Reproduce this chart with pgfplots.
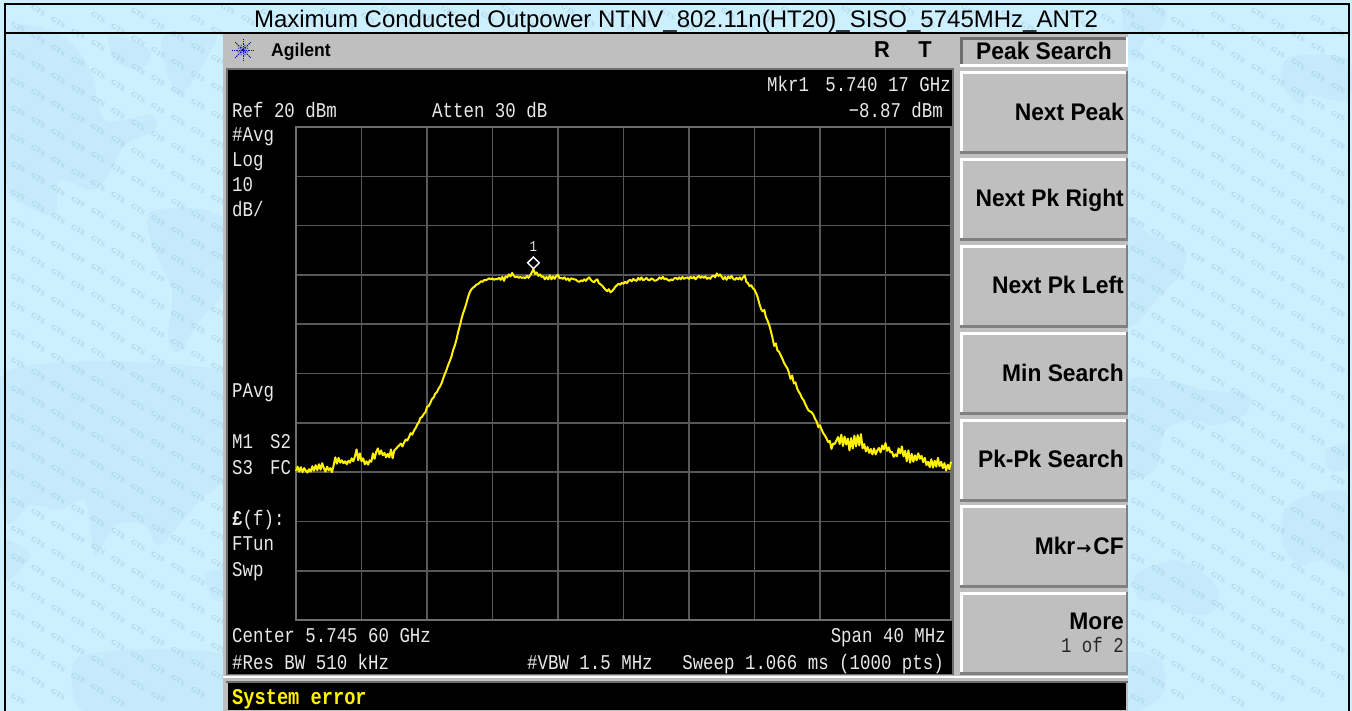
\documentclass[border=0pt]{standalone}
\usepackage{fontspec}
\usepackage{pgfplots}
\pgfplotsset{compat=1.18}
\setmainfont{Liberation Sans}
\newfontfamily\scr[FakeStretch=0.83]{Liberation Mono}
\newfontfamily\scrb[FakeStretch=0.83]{Liberation Mono Bold}
\newfontfamily\btn[FakeStretch=0.95]{Liberation Sans Bold}
\newfontfamily\arr{DejaVu Sans}
\newfontfamily\wmf{Liberation Serif Bold}
\newcommand{\scrfont}{\fontsize{21}{24}\selectfont\scr}
\newcommand{\btnfont}{\fontsize{24}{26}\selectfont\btn}
\definecolor{bgb}{HTML}{CDF0FF}
\definecolor{blob}{HTML}{C4EAFC}
\definecolor{panel}{HTML}{BFBFBF}
\definecolor{gridg}{HTML}{585858}
\definecolor{boxg}{HTML}{6E6E6E}
\definecolor{scrw}{HTML}{E8E8E8}
\definecolor{wm}{HTML}{AED5E8}
\newcommand{\softkey}[2]{%
  \fill[panel] (960,#1) rectangle (1128,#2);
  \fill[white] (960,#1) rectangle (1128,#1+3);
  \fill[white] (960,#1) rectangle (962.5,#2);
  \fill[black!50] (960,#2-3) rectangle (1128,#2);
  \fill[black!50] (1125.5,#1) rectangle (1128,#2);
}
\begin{document}
\begin{tikzpicture}[x=1pt,y=-1pt]
\path[use as bounding box] (0,0) rectangle (1352,711);
\clip (0,0) rectangle (1352,711);
\fill[bgb] (0,0) rectangle (1352,711);
% faint map shapes
\begin{scope}[fill=blob]
\fill plot[smooth cycle,tension=.5] coordinates {(6,35)(60,35)(90,70)(105,120)(150,115)(155,130)(125,145)(105,180)(90,190)(60,180)(55,215)(25,205)(6,180)};
\fill plot[smooth cycle,tension=.5] coordinates {(110,35)(150,50)(140,70)(115,60)};
\fill plot[smooth cycle,tension=.5] coordinates {(165,35)(215,35)(205,60)(180,95)(165,65)};
\fill plot[smooth cycle,tension=.4] coordinates {(150,212)(190,208)(224,220)(224,290)(200,320)(178,352)(168,340)(172,290)(150,240)};
\fill plot[smooth cycle,tension=.4] coordinates {(6,372)(224,372)(224,475)(200,500)(160,545)(145,525)(115,525)(95,555)(85,500)(60,510)(30,505)(6,520)};
\fill plot[smooth cycle,tension=.4] coordinates {(6,540)(30,555)(20,570)(6,580)};
\fill plot[smooth cycle,tension=.4] coordinates {(205,575)(224,570)(224,600)(212,598)};
\fill plot[smooth cycle,tension=.4] coordinates {(75,660)(130,650)(224,655)(224,712)(85,712)};
\fill plot[smooth cycle,tension=.5] coordinates {(1125,5)(1165,10)(1160,30)(1145,40)(1135,60)(1125,50)};
\fill plot[smooth cycle,tension=.5] coordinates {(1285,60)(1310,55)(1348,60)(1348,100)(1310,95)(1300,105)(1282,85)};
\fill plot[smooth cycle,tension=.5] coordinates {(1125,220)(1150,235)(1185,250)(1180,275)(1160,295)(1140,320)(1125,320)};
\fill plot[smooth cycle,tension=.5] coordinates {(1125,385)(1165,380)(1205,390)(1248,395)(1245,415)(1215,425)(1190,420)(1165,430)(1160,450)(1155,470)(1130,480)(1125,470)};
\fill plot[smooth cycle,tension=.5] coordinates {(1325,450)(1348,445)(1348,468)(1330,470)};
\fill plot[smooth cycle,tension=.5] coordinates {(1285,510)(1310,495)(1348,495)(1348,570)(1320,560)(1300,565)(1283,545)};
\fill plot[smooth cycle,tension=.5] coordinates {(1135,575)(1175,560)(1205,575)(1218,590)(1215,610)(1195,615)(1160,600)(1140,600)};
\fill plot[smooth cycle,tension=.5] coordinates {(1125,655)(1160,660)(1165,690)(1150,705)(1125,712)};
\end{scope}
% watermark
\tikzset{wmk/.style={font=\fontsize{7.5}{8}\selectfont\wmf,text=wm,rotate=-32,inner sep=0pt}}
\foreach \c in {0,...,10}{
  \foreach \r in {-5,...,26}{
    \pgfmathsetmacro{\xa}{18+20*\c}
    \pgfmathsetmacro{\xb}{1138+20*\c}
    \pgfmathsetmacro{\yy}{11.7*\c+28*\r-1}
    \pgfmathparse{(\yy>10)&&(\yy<702)?1:0}
    \ifnum\pgfmathresult=1
      \node[wmk] at (\xa,\yy) {GTS};
      \node[wmk] at (\xb,\yy) {GTS};
    \fi
  }
}
\foreach \c in {0,...,45}{
  \pgfmathsetmacro{\xa}{228+20*\c}
  \pgfmathsetmacro{\yy}{9+mod(11.7*\c,18)}
  \node[wmk] at (\xa,\yy) {GTS};
}
% outer cell lines
\draw[black,line width=2pt] (5,712) -- (5,4) -- (1349,4) -- (1349,712);
\draw[black,line width=2pt] (5,33.5) -- (1349,33.5);
\node[anchor=base,inner sep=0pt,font=\fontsize{24}{26}\selectfont] at (676,28) {Maximum Conducted Outpower NTNV\_802.11n(HT20)\_SISO\_5745MHz\_ANT2};
% instrument panel
\fill[panel] (223,34.5) rectangle (1128,711);
\fill[boxg] (226,68) rectangle (954,675);
\fill[black] (228,70) rectangle (952,674);
\fill[white] (223,675.5) rectangle (1128,678);
\fill[boxg] (226,680.5) rectangle (1128,683);
\fill[black] (228,683) rectangle (1126,710);
% soft keys
\fill[boxg] (960,37) rectangle (1128,40);
\fill[boxg] (960,37) rectangle (962.5,67);
\fill[white] (960,64.5) rectangle (1128,67);
\fill[white] (1125.5,37) rectangle (1128,67);
\softkey{71}{154}
\softkey{158}{241}
\softkey{245}{328}
\softkey{332}{415}
\softkey{419}{502}
\softkey{505}{588}
\softkey{592}{675}
% trace
\begin{axis}[
  at={(296pt,-620pt)},anchor=south west,
  width=655pt,height=493pt,scale only axis,
  xmin=0,xmax=40,ymin=-80,ymax=20,
  xtick={0,4,...,40},ytick={-80,-70,...,20},
  xticklabels={},yticklabels={},
  major tick length=0pt,
  grid=major,
  major grid style={gridg,line width=1.6pt},
  axis line style={boxg,line width=2.4pt},
  clip=false,
]
\addplot[color=yellow,line width=2pt,line join=round] coordinates {
(0,-49.8)(.1,-48.9)(.2,-49.9)(.3,-49.0)(.4,-50.0)(.5,-49.2)(.6,-49.7)(.7,-50.1)(.8,-49.4)(.9,-49.9)
(1,-48.8)(1.1,-49.7)(1.2,-48.6)(1.3,-49.6)(1.4,-48.4)(1.5,-49.5)(1.6,-48.2)(1.7,-49.2)(1.8,-49.9)(1.9,-48.9)
(2,-49.6)(2.1,-49.2)(2.2,-50)(2.3,-48.6)(2.4,-47)(2.5,-48.3)(2.6,-47.1)(2.7,-48.1)(2.8,-47.6)(2.9,-48.2)
(3,-47.8)(3.1,-48.4)(3.2,-47.7)(3.3,-48.1)(3.4,-47.2)(3.5,-47.8)(3.6,-46.8)(3.7,-45.4)(3.8,-47.6)(3.9,-46.2)
(4,-47.8)(4.1,-47.2)(4.2,-48.4)(4.3,-47.8)(4.4,-48.5)(4.5,-47.6)(4.6,-47.9)(4.7,-46.2)(4.8,-47.3)(4.9,-45.9)
(5,-45.2)(5.1,-46.4)(5.2,-45.6)(5.3,-46.6)(5.4,-46.1)(5.5,-47)(5.6,-46.3)(5.7,-47)(5.8,-45.4)(5.9,-47.2)
(6,-45.6)(6.1,-45.3)(6.2,-44.9)(6.3,-44.6)(6.4,-44.2)(6.5,-44.8)(6.6,-44)(6.7,-43.4)(6.8,-43.6)(6.9,-42.9)
(7,-42.1)(7.1,-42.4)(7.2,-41.6)(7.3,-41.1)(7.4,-40.4)(7.5,-39.9)(7.6,-39.0)(7.7,-38.8)(7.8,-38.2)(7.9,-37.9)
(8,-36.8)(8.1,-36.6)(8.2,-36)(8.3,-35.2)(8.4,-34.9)(8.5,-34.1)(8.6,-33.8)(8.7,-33.1)(8.8,-32.6)(8.9,-31.9)
(9,-30.9)(9.1,-30)(9.2,-29.2)(9.3,-28.2)(9.4,-27.4)(9.5,-26.5)(9.6,-25.2)(9.7,-24.3)(9.8,-23.1)(9.9,-21.6)
(10,-20.4)(10.1,-19)(10.2,-17.8)(10.3,-16.9)(10.4,-15.8)(10.5,-14.6)(10.6,-13.6)(10.7,-13.0)(10.8,-12.6)(10.9,-12.4)
(11,-12.0)(11.1,-11.9)(11.2,-11.6)(11.3,-11.3)(11.4,-11.4)(11.5,-11.0)(11.6,-11.1)(11.7,-10.9)(11.8,-10.7)(11.9,-10.9)
(12,-10.7)(12.1,-11)(12.2,-10.8)(12.3,-10.9)(12.4,-10.6)(12.5,-11)(12.6,-10.4)(12.7,-11.2)(12.8,-10.3)(12.9,-10.5)
(13,-9.9)(13.1,-10.3)(13.2,-9.6)(13.3,-10.2)(13.4,-10.5)(13.5,-10.3)(13.6,-10.6)(13.7,-10.4)(13.8,-10.6)(13.9,-10.5)
(14,-10.7)(14.1,-10.2)(14.2,-10.6)(14.3,-10.1)(14.4,-9.5)(14.5,-8.87)(14.6,-9.8)(14.7,-9.5)(14.8,-10.2)(14.9,-9.9)
(15,-10.4)(15.1,-10.3)(15.2,-10.9)(15.3,-10.4)(15.4,-10.9)(15.5,-10.1)(15.6,-10.9)(15.7,-10.3)(15.8,-10.8)(15.9,-10.2)
(16,-10)(16.1,-10.7)(16.2,-10.6)(16.3,-10.8)(16.4,-10.5)(16.5,-11)(16.6,-10.7)(16.7,-11.2)(16.8,-10.7)(16.9,-10.8)
(17,-10.9)(17.1,-11)(17.2,-11.3)(17.3,-11.4)(17.4,-11.1)(17.5,-11.3)(17.6,-10.9)(17.7,-11.2)(17.8,-10.8)(17.9,-10.5)
(18,-11)(18.1,-11.3)(18.2,-11.5)(18.3,-11.1)(18.4,-10.9)(18.5,-11.7)(18.6,-11.9)(18.7,-12.2)(18.8,-12.6)(18.9,-13)
(19,-13.3)(19.1,-12.9)(19.2,-13.5)(19.3,-13.3)(19.4,-12.9)(19.5,-12.4)(19.6,-12.1)(19.7,-11.8)(19.8,-12)(19.9,-11.6)
(20,-11.8)(20.1,-11.4)(20.2,-11.7)(20.3,-11.2)(20.4,-11)(20.5,-11.3)(20.6,-10.8)(20.7,-11.1)(20.8,-11.2)(20.9,-10.6)
(21,-11)(21.1,-10.5)(21.2,-11.1)(21.3,-10.9)(21.4,-10.6)(21.5,-11)(21.6,-11.1)(21.7,-10.7)(21.8,-10.9)(21.9,-11.2)
(22,-11.1)(22.1,-10.9)(22.2,-10.5)(22.3,-10.8)(22.4,-10.4)(22.5,-10.9)(22.6,-10.7)(22.7,-11)(22.8,-11.2)(22.9,-10.9)
(23,-11.1)(23.1,-10.7)(23.2,-10.6)(23.3,-10.9)(23.4,-10.5)(23.5,-10.9)(23.6,-10.4)(23.7,-10.8)(23.8,-10.6)(23.9,-10.5)
(24,-10.8)(24.1,-10.4)(24.2,-10.7)(24.3,-10.4)(24.4,-10.9)(24.5,-10.5)(24.6,-10.2)(24.7,-10.6)(24.8,-10.3)(24.9,-10.6)
(25,-10.3)(25.1,-10.8)(25.2,-10.5)(25.3,-10.8)(25.4,-10.3)(25.5,-10.1)(25.6,-10.5)(25.7,-9.7)(25.8,-10.2)(25.9,-9.9)
(26,-10.4)(26.1,-10.9)(26.2,-10.4)(26.3,-11)(26.4,-10.3)(26.5,-10.7)(26.6,-10.2)(26.7,-10.8)(26.8,-11)(26.9,-10.6)
(27,-10.9)(27.1,-10.5)(27.2,-11)(27.3,-10.5)(27.4,-10.1)(27.5,-11.4)(27.6,-11.7)(27.7,-12.3)(27.8,-12.1)(27.9,-12.7)
(28,-13)(28.1,-13.7)(28.2,-14.6)(28.3,-15.9)(28.4,-16.9)(28.5,-17.4)(28.6,-17.1)(28.7,-18.6)(28.8,-19.3)(28.9,-20.2)
(29,-21.4)(29.1,-22.8)(29.2,-24.4)(29.3,-23.9)(29.4,-25.3)(29.5,-25.6)(29.6,-26.3)(29.7,-27)(29.8,-27.8)(29.9,-28.4)
(30,-28.9)(30.1,-29.8)(30.2,-31.1)(30.3,-30.4)(30.4,-32)(30.5,-31.8)(30.6,-33)(30.7,-33.7)(30.8,-34.2)(30.9,-35)
(31,-35.4)(31.1,-36.2)(31.2,-36.9)(31.3,-37.5)(31.4,-37.7)(31.5,-37.9)(31.6,-38.4)(31.7,-39.2)(31.8,-39.8)(31.9,-40.9)
(32,-40.5)(32.1,-41.4)(32.2,-42.1)(32.3,-42.6)(32.4,-43.2)(32.5,-43.9)(32.6,-43.7)(32.7,-45.3)(32.8,-44.2)(32.9,-44.3)
(33,-43.6)(33.1,-42.9)(33.2,-44.3)(33.3,-42.4)(33.4,-44.7)(33.5,-42.8)(33.6,-44.4)(33.7,-43.2)(33.8,-45.6)(33.9,-43.1)
(34,-45.2)(34.1,-42.6)(34.2,-44.8)(34.3,-42.5)(34.4,-44.6)(34.5,-42.3)(34.6,-45.2)(34.7,-44.3)(34.8,-45.8)(34.9,-44.9)
(35,-46.1)(35.1,-45.3)(35.2,-46.4)(35.3,-45.2)(35.4,-46.4)(35.5,-45.6)(35.6,-45.1)(35.7,-46)(35.8,-44.6)(35.9,-45.4)
(36,-44.1)(36.1,-45.7)(36.2,-45)(36.3,-46)(36.4,-45.9)(36.5,-46.9)(36.6,-46.4)(36.7,-46.8)(36.8,-45.2)(36.9,-46.2)
(37,-44.8)(37.1,-46.8)(37.2,-45.7)(37.3,-47.8)(37.4,-45.6)(37.5,-48.1)(37.6,-46.3)(37.7,-47.9)(37.8,-46.6)(37.9,-47.6)
(38,-46.2)(38.1,-47.3)(38.2,-46.7)(38.3,-48)(38.4,-47.1)(38.5,-48.6)(38.6,-47.9)(38.7,-49)(38.8,-47.4)(38.9,-49.1)
(39,-47.7)(39.1,-48.9)(39.2,-47.1)(39.3,-48.8)(39.4,-47.9)(39.5,-49.2)(39.6,-48.2)(39.7,-49.7)(39.8,-48.5)(39.9,-49.4)
(40,-47.9)
};
\addplot[only marks,mark=square,mark size=4.1pt,color=white,
  mark options={line width=1.5pt,yshift=6.5pt,rotate=45}] coordinates {(14.5,-8.87)};
\node[text=scrw,inner sep=0pt,font=\fontsize{15}{16}\selectfont\scr,yshift=23pt] at (axis cs:14.5,-8.87) {1};
\end{axis}
% on-screen text
\tikzset{st/.style={anchor=base west,inner sep=0pt,text=scrw,font=\scrfont},
  sr/.style={anchor=base east,inner sep=0pt,text=scrw,font=\scrfont},
  bk/.style={anchor=base east,inner sep=0pt,text=black,font=\btnfont}}
\node[st] at (232,118) {Ref 20 dBm};
\node[st] at (432,118) {Atten 30 dB};
\node[st] at (767,92) {Mkr1};
\node[sr] at (951,92) {5.740 17 GHz};
\node[sr] at (943,118) {−8.87 dBm};
\node[st] at (232,142) {\#Avg};
\node[st] at (232,167) {Log};
\node[st] at (232,192) {10};
\node[st] at (232,217) {dB/};
\node[st] at (232,397) {PAvg};
\node[st] at (232,448) {M1};
\node[st] at (270,448) {S2};
\node[st] at (232,474) {S3};
\node[st] at (270,474) {FC};
\node[st] at (232,525) {{\scrb £}(f):};
\node[st] at (232,550) {FTun};
\node[st] at (232,576) {Swp};
\node[st] at (232,642) {Center 5.745 60 GHz};
\node[sr] at (946,642) {Span 40 MHz};
\node[st] at (232,669) {\#Res BW 510 kHz};
\node[st] at (527,669) {\#VBW 1.5 MHz};
\node[sr] at (944,669) {Sweep 1.066 ms (1000 pts)};
\node[anchor=base west,inner sep=0pt,text=yellow,font=\fontsize{22.5}{24}\selectfont\scrb] at (232,704) {System error};
% header
\node[anchor=base west,inner sep=0pt,font=\fontsize{18.5}{22}\selectfont\btn] at (271,57) {Agilent};
\node[anchor=base,inner sep=0pt,font=\fontsize{23}{24}\selectfont\btn] at (882,58) {R};
\node[anchor=base,inner sep=0pt,font=\fontsize{23}{24}\selectfont\btn] at (925,58) {T};
\foreach \a in {0,45,...,315}{
  \draw[blue!80!black,line width=.9pt,dash pattern=on 1.6pt off 1pt] (243,50) -- ++(\a:11);
}
\foreach \a in {22.5,67.5,...,337.5}{
  \draw[blue!80!black,line width=.7pt,dash pattern=on 1.2pt off 1pt] (243,50) -- ++(\a:6.5);
}
% soft key text
\node[anchor=base,inner sep=0pt,text=black,font=\btnfont] at (1044,60) {Peak Search};
\node[bk] at (1124,121) {Next Peak};
\node[bk] at (1124,207) {Next Pk Right};
\node[bk] at (1124,294) {Next Pk Left};
\node[bk] at (1124,381) {Min Search};
\node[bk] at (1124,467) {Pk-Pk Search};
\node[bk] at (1124,554) {Mkr\hspace{1pt}{\fontsize{18}{18}\selectfont\arr\bfseries →}\hspace{2pt}CF};
\node[bk] at (1124,629) {More};
\node[anchor=base east,inner sep=0pt,text=black!85,font=\scrfont] at (1124,652) {1 of 2};
\end{tikzpicture}
\end{document}
